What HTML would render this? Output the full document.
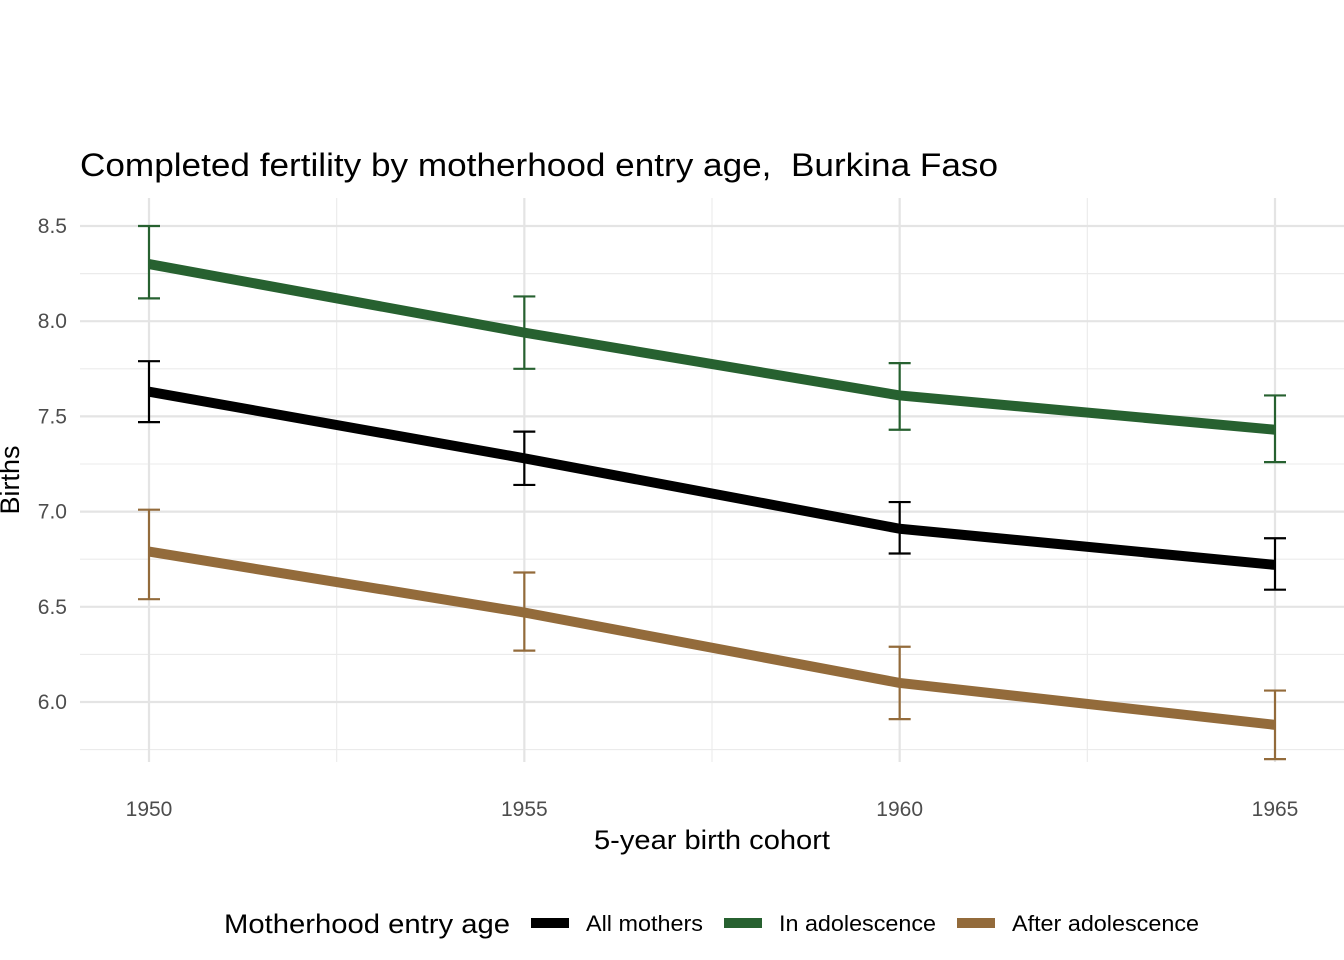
<!DOCTYPE html>
<html><head><meta charset="utf-8"><style>
html,body{margin:0;padding:0;background:#fff;}
svg{display:block;font-family:"Liberation Sans",Arial,sans-serif;}
</style></head><body>
<svg id="chart" width="1344" height="960" viewBox="0 0 1344 960">
<g id="grid"></g>
<g id="series"></g>
<g id="axes"></g>
<text x="80" y="176" font-size="32" fill="#000" textLength="918" lengthAdjust="spacingAndGlyphs">Completed fertility by motherhood entry age,&#160; Burkina Faso</text>
<text x="712" y="849" font-size="27" text-anchor="middle" fill="#000" textLength="236" lengthAdjust="spacingAndGlyphs">5-year birth cohort</text>
<text transform="translate(19,480) rotate(-90)" font-size="27" text-anchor="middle" fill="#000">Births</text>
<g>
<text x="224" y="933" font-size="27" fill="#000" textLength="286" lengthAdjust="spacingAndGlyphs">Motherhood entry age</text>
<g><rect x="531" y="918" width="38" height="10" fill="#000"/><text x="586" y="931" font-size="22" textLength="117" lengthAdjust="spacingAndGlyphs">All mothers</text></g>
<g><rect x="724" y="918" width="38" height="10" fill="#276130"/><text x="779" y="931" font-size="22" textLength="157" lengthAdjust="spacingAndGlyphs">In adolescence</text></g>
<g><rect x="957" y="918" width="38" height="10" fill="#936b3b"/><text x="1012" y="931" font-size="22" textLength="187" lengthAdjust="spacingAndGlyphs">After adolescence</text></g>
</g>
</svg>
<script>
const cohorts=[1950,1955,1960,1965];
const yTicks=[6.0,6.5,7.0,7.5,8.0,8.5];
const seriesNames=["All mothers","In adolescence","After adolescence"];
const allMothers=[7.63,7.28,6.91,6.72];
const allLo=[7.47,7.14,6.78,6.59];
const allHi=[7.79,7.42,7.05,6.86];
const inAdol=[8.30,7.94,7.61,7.43];
const inLo=[8.12,7.75,7.43,7.26];
const inHi=[8.50,8.13,7.78,7.61];
const afterAdol=[6.79,6.47,6.10,5.88];
const afterLo=[6.54,6.27,5.91,5.70];
const afterHi=[7.01,6.68,6.29,6.06];

const NS="http://www.w3.org/2000/svg";
function X(v){return 149+(v-1950)*(1275-149)/15;}
function Y(v){return 702-(v-6.0)*(702-226)/2.5;}
function mk(tag,attrs,parent){const e=document.createElementNS(NS,tag);for(const k in attrs)e.setAttribute(k,attrs[k]);parent.appendChild(e);return e;}
const grid=document.getElementById('grid'),axes=document.getElementById('axes'),ser=document.getElementById('series');
const L=80,R=1344,T=198,B=762;
for(let i=0;i<yTicks.length;i++){const m=yTicks[i]-0.25;const l=mk('line',{x1:L,x2:R,y1:Y(m),y2:Y(m),stroke:'#ebebeb','stroke-width':1.1},grid);

}
{const l=mk('line',{x1:L,x2:R,y1:Y(8.25),y2:Y(8.25),stroke:'#ebebeb','stroke-width':1.1},grid);

}
for(let i=0;i<cohorts.length-1;i++){const m=(cohorts[i]+cohorts[i+1])/2;const l=mk('line',{x1:X(m),x2:X(m),y1:T,y2:B,stroke:'#ebebeb','stroke-width':1.1},grid);

}
yTicks.forEach(t=>{const l=mk('line',{x1:L,x2:R,y1:Y(t),y2:Y(t),stroke:'#e4e4e4','stroke-width':2.2},grid);


const tx=mk('text',{x:67,y:Y(t)+7,'font-size':21,'text-anchor':'end',fill:'#4d4d4d'},axes);tx.textContent=t.toFixed(1);

});
cohorts.forEach(c=>{const l=mk('line',{x1:X(c),x2:X(c),y1:T,y2:B,stroke:'#e4e4e4','stroke-width':2.2},grid);


const tx=mk('text',{x:X(c),y:816,'font-size':21,'text-anchor':'middle',fill:'#4d4d4d'},axes);tx.textContent=c;

});
const S=[[allMothers,allLo,allHi,'#000000','all-mothers'],[inAdol,inLo,inHi,'#276130','in-adolescence'],[afterAdol,afterLo,afterHi,'#936b3b','after-adolescence']];
S.forEach(([v,lo,hi,col,nm])=>{
const pts=cohorts.map((c,i)=>X(c)+','+Y(v[i])).join(' ');
const pl=mk('polyline',{points:pts,fill:'none',stroke:col,'stroke-width':10,'stroke-linejoin':'round'},ser);


cohorts.forEach((c,i)=>{const g=mk('g',{stroke:col,'stroke-width':2.2,fill:'none'},ser);


const x=X(c);mk('line',{x1:x,x2:x,y1:Y(lo[i]),y2:Y(hi[i])},g);
mk('line',{x1:x-11,x2:x+11,y1:Y(lo[i]),y2:Y(lo[i])},g);
mk('line',{x1:x-11,x2:x+11,y1:Y(hi[i]),y2:Y(hi[i])},g);});
});
</script>
</body></html>
